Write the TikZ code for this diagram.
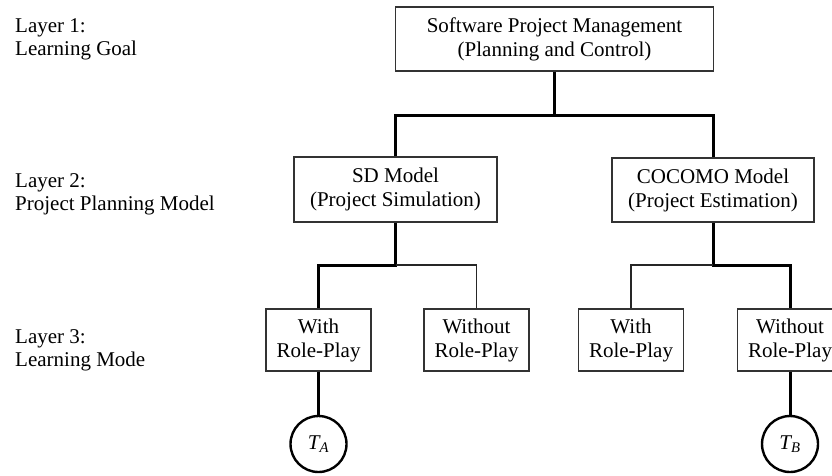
\documentclass[tikz,border=0pt]{standalone}
\usepackage{fontspec}
\setmainfont{Liberation Serif}
\begin{document}
\begin{tikzpicture}[x=1pt,y=-1pt,
  every node/.style={font=\fontsize{21}{24}\selectfont, inner sep=0pt, text=black},
  box/.style={draw=black!80, line width=1.4pt, align=center, minimum height=64pt},
  lowbox/.style={box, minimum width=105pt, minimum height=62pt},
  thk/.style={line width=3pt, draw=black},
  thn/.style={line width=1.3pt, draw=black!85},
  term/.style={circle, draw=black, line width=2.4pt, minimum size=56pt},
  lbl/.style={anchor=base west}
]
\useasboundingbox (0,0) rectangle (832,475);

% left layer labels
\node[lbl] (l1a) at (15,32) {Layer 1:};
\node[lbl] (l1b) at (15,55) {Learning Goal};
\node[lbl] (l2a) at (15,187) {Layer 2:};
\node[lbl] (l2b) at (15,210) {Project Planning Model};
\node[lbl] (l3a) at (15,343) {Layer 3:};
\node[lbl] (l3b) at (15,366) {Learning Mode};

% boxes
\node[box, minimum width=318pt] (top) at (554.5,39) {Software Project Management\\(Planning and Control)};
\node[box, minimum width=203pt, minimum height=65pt] (sd) at (395.5,189.5) {SD Model\\(Project Simulation)};
\node[box, minimum width=202pt] (coc) at (713,190) {COCOMO Model\\(Project Estimation)};
\node[lowbox] (w1) at (318.5,340) {With\\Role-Play};
\node[lowbox] (wo1) at (476.5,340) {Without\\Role-Play};
\node[lowbox] (w2) at (631,340) {With\\Role-Play};
\node[lowbox] (wo2) at (790,340) {Without\\Role-Play};

\node[term] (ta) at (318.5,444) {\itshape T\textsubscript{A}};
\node[term] (tb) at (790,444) {\itshape T\textsubscript{B}};

% connectors
\coordinate (bar1) at (0,115);
\coordinate (bar2) at (0,265);
\draw[thk] (top.south) -- (top.south |- bar1) -| (sd.north);
\draw[thk] (top.south |- bar1) -| (coc.north);
\draw[thk] (sd.south) -- (sd.south |- bar2) -| (w1.north);
\draw[thn] (sd.south |- bar2) -| (wo1.north);
\draw[thk] (coc.south) -- (coc.south |- bar2) -| (wo2.north);
\draw[thn] (coc.south |- bar2) -| (w2.north);
\draw[thk] (w1) -- (ta);
\draw[thk] (wo2) -- (tb);
\end{tikzpicture}
\end{document}
